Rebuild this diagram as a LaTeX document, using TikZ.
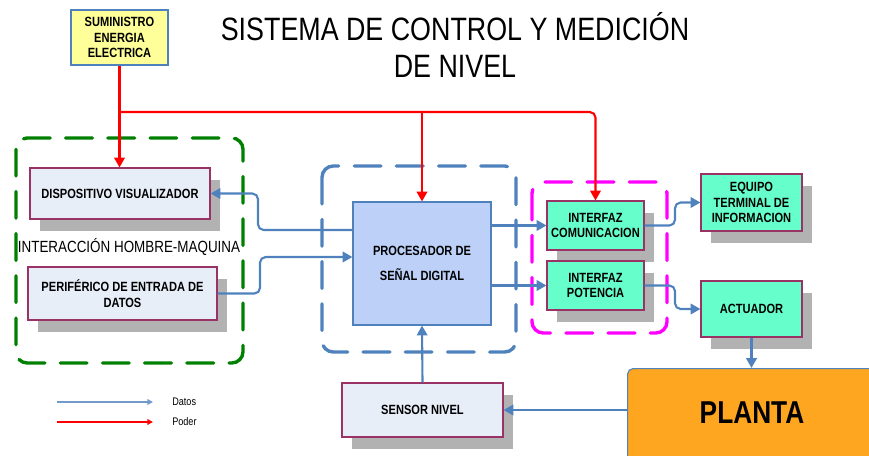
\documentclass[tikz,border=0pt]{standalone}
\usepackage{fontspec}
\setmainfont{Liberation Sans}[FakeStretch=0.83]
\usetikzlibrary{arrows.meta,shadows}

\definecolor{azuldatos}{HTML}{4F81BD}
\definecolor{rojopoder}{HTML}{FF0000}
\definecolor{verdegrupo}{HTML}{008000}
\definecolor{magentagrupo}{HTML}{FF00FF}
\definecolor{cajaclaro}{HTML}{E8EEF8}
\definecolor{cajaborde}{HTML}{993366}
\definecolor{procfondo}{HTML}{BCD0F8}
\definecolor{verdeagua}{HTML}{66FFCC}
\definecolor{amarillo}{HTML}{FFFF99}
\definecolor{naranja}{HTML}{FFA620}
\definecolor{sombra}{HTML}{B2B2B2}

\begin{document}
\begin{tikzpicture}[x=0.025cm, y=-0.025cm,
  titulo/.style={align=center, font=\fontsize{23}{26}\selectfont},
  bloque/.style={draw=cajaborde, line width=0.8pt, fill=cajaclaro, align=center,
    inner sep=1pt, font=\bfseries\fontsize{9.5}{11}\selectfont},
  caja/.style={bloque, drop shadow={shadow xshift=7pt, shadow yshift=-8.5pt,
    fill=sombra, opacity=1}},
  grupo/.style={dash pattern=on 19pt off 11pt, line width=2.4pt,
    line cap=round, rounded corners=8pt},
  datos/.style={draw=azuldatos, line width=1.5pt, rounded corners=4pt,
    -{Triangle[length=7pt,width=7.5pt]}},
  poder/.style={draw=rojopoder, line width=1.5pt, rounded corners=4pt,
    -{Triangle[length=7pt,width=7.5pt]}},
  leyenda/.style={anchor=west, inner sep=0pt, font=\fontsize{7.8}{9}\selectfont}]

  \useasboundingbox (0,0) rectangle (869,455);

  % titulo
  \node[titulo] (titulo) at (455,45) {SISTEMA DE CONTROL Y MEDICIÓN\\DE NIVEL};

  % grupos punteados
  \draw[grupo, draw=verdegrupo] (16,138) rectangle (243,363);
  \draw[grupo, draw=azuldatos] (322,166) rectangle (516,352);
  \draw[grupo, draw=magentagrupo] (532,182) rectangle (667,333);
  \node[font=\fontsize{11.5}{13}\selectfont] (hmi) at (129,247) {INTERACCIÓN HOMBRE-MAQUINA};

  % bloques
  \node[bloque, fill=amarillo, draw=azuldatos, minimum width=2.425cm,
    minimum height=1.375cm] (sum) at (119.5,37.5) {SUMINISTRO\\ENERGIA\\ELECTRICA};
  \node[caja, minimum width=4.5cm, minimum height=1.275cm] (disp) at (120,193.5)
    {DISPOSITIVO VISUALIZADOR};
  \node[caja, minimum width=4.725cm, minimum height=1.325cm] (peri) at (122.5,293.5)
    {PERIFÉRICO DE ENTRADA DE\\DATOS};
  \node[bloque, fill=procfondo, draw=azuldatos, minimum width=3.45cm,
    minimum height=3.075cm, font=\bfseries\fontsize{9.5}{18}\selectfont] (proc)
    at (422,263.5) {PROCESADOR DE\\SEÑAL DIGITAL};
  \node[caja, fill=verdeagua, minimum width=2.425cm, minimum height=1.225cm] (icom)
    at (595.5,225.5) {INTERFAZ\\COMUNICACION};
  \node[caja, fill=verdeagua, minimum width=2.425cm, minimum height=1.225cm] (ipot)
    at (595.5,285.5) {INTERFAZ\\POTENCIA};
  \node[caja, fill=verdeagua, minimum width=2.525cm, minimum height=1.425cm] (equipo)
    at (751.5,202.5) {EQUIPO\\TERMINAL DE\\INFORMACION};
  \node[caja, fill=verdeagua, minimum width=2.525cm, minimum height=1.4cm] (act)
    at (751.5,309) {ACTUADOR};
  \node[caja, minimum width=4.025cm, minimum height=1.35cm] (sensor) at (422.5,410)
    {SENSOR NIVEL};
  \node[draw=azuldatos, line width=0.8pt, fill=naranja, rounded corners=4pt,
    anchor=north west, minimum width=7cm, minimum height=3.5cm] (planta)
    at (627,368) {};
  \node[font=\bfseries\fontsize{22.5}{24}\selectfont] (plantatxt) at (752,413) {PLANTA};

  % poder
  \coordinate (nudo) at (sum.south |- 0,112);
  \draw[poder] (sum.south) -- (sum.south |- disp.north);
  \draw[poder] (nudo) -| (icom.north);
  \draw[poder] (proc.north |- nudo) -- (proc.north);

  % datos
  \draw[datos] (proc.west |- 0,230) -- (258,230) -- (258,193.5) -- (disp.east);
  \draw[datos] (peri.east) -- (260,293.5) -- (260,257) -- (proc.west |- 0,257);
  \draw[datos] (proc.east |- icom.west) -- (icom.west);
  \draw[datos] (proc.east |- ipot.west) -- (ipot.west);
  \draw[datos] (icom.east) -- (675,225.5) -- (675,202.5) -- (equipo.west);
  \draw[datos] (ipot.east) -- (675,285.5) -- (675,309) -- (act.west);
  \draw[datos] (act.south) -- (act.south |- planta.north);
  \draw[datos] (planta.west |- sensor.east) -- (sensor.east);
  \draw[datos] (sensor.north) -- (proc.south);

  % leyenda
  \coordinate (ld) at (57,402);
  \coordinate (lp) at (57,422);
  \node[leyenda] (ldatos) at (172,402) {Datos};
  \node[leyenda] (lpoder) at (172,422) {Poder};
  \draw[draw=azuldatos!80, line width=1pt, -{Triangle[length=4pt,width=4pt]}]
    (ld) -- ([xshift=-13.5pt]ldatos.west);
  \draw[draw=rojopoder, line width=1pt, -{Triangle[length=4pt,width=4pt]}]
    (lp) -- ([xshift=-13.5pt]lpoder.west);
\end{tikzpicture}
\end{document}
